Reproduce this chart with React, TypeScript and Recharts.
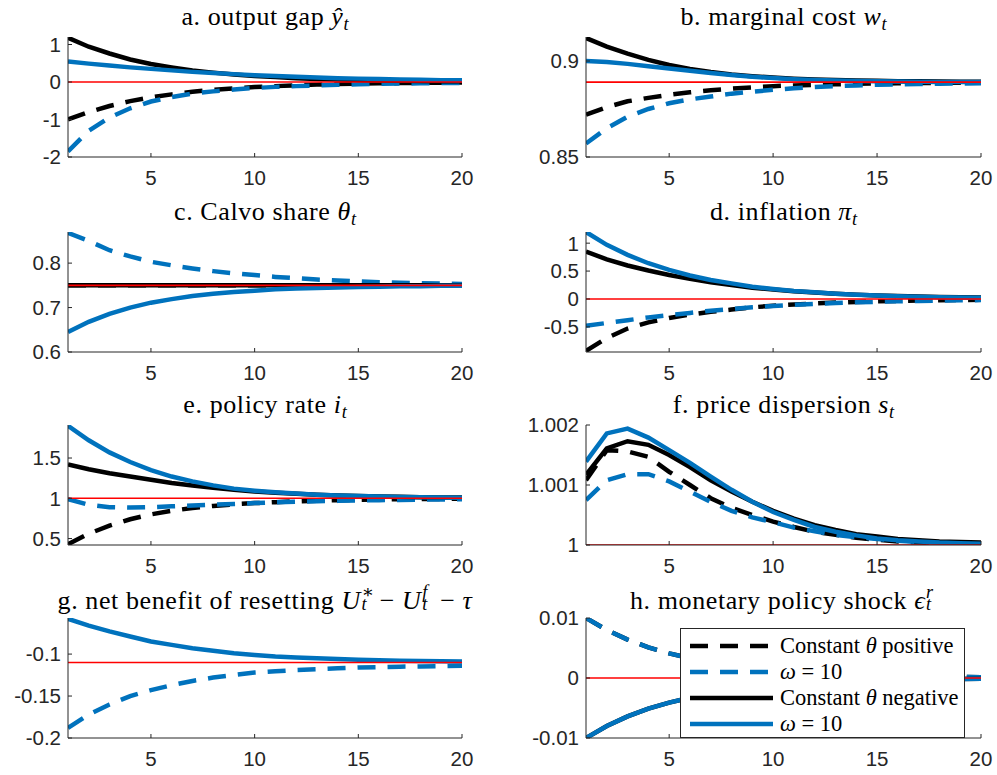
import React from 'react';
import { LineChart, Line, XAxis, YAxis, Legend } from 'recharts';

// ---- data ----------------------------------------------------------------
const periods = [1, 2, 3, 4, 5, 6, 7, 8, 9, 10, 11, 12, 13, 14, 15, 16, 17, 18, 19, 20];

// a. output gap
const gapConstPos = [-1.0, -0.8, -0.64, -0.51, -0.41, -0.33, -0.26, -0.21, -0.17, -0.135, -0.11, -0.09, -0.07, -0.055, -0.045, -0.035, -0.03, -0.024, -0.019, -0.015];
const gapOmegaPos = [-1.85, -1.3, -0.95, -0.7, -0.52, -0.4, -0.31, -0.25, -0.2, -0.16, -0.13, -0.11, -0.09, -0.075, -0.06, -0.05, -0.04, -0.035, -0.03, -0.025];
const gapConstNeg = [1.18, 0.94, 0.76, 0.6, 0.48, 0.39, 0.31, 0.25, 0.2, 0.16, 0.13, 0.1, 0.08, 0.065, 0.05, 0.04, 0.033, 0.026, 0.02, 0.017];
const gapOmegaNeg = [0.55, 0.49, 0.44, 0.39, 0.35, 0.31, 0.27, 0.24, 0.21, 0.18, 0.16, 0.14, 0.12, 0.1, 0.09, 0.08, 0.07, 0.06, 0.05, 0.045];

// b. marginal cost
const mcConstPos = [0.872, 0.876, 0.879, 0.8808, 0.8824, 0.8837, 0.8848, 0.8856, 0.8863, 0.8869, 0.8873, 0.8876, 0.8879, 0.8881, 0.8883, 0.8884, 0.8885, 0.8886, 0.8887, 0.8887];
const mcOmegaPos = [0.857, 0.865, 0.871, 0.875, 0.878, 0.88, 0.8815, 0.883, 0.884, 0.885, 0.8858, 0.8864, 0.8869, 0.8873, 0.8876, 0.8878, 0.888, 0.8882, 0.8883, 0.8884];
const mcConstNeg = [0.912, 0.9075, 0.9038, 0.9006, 0.8979, 0.8959, 0.8943, 0.893, 0.8921, 0.8914, 0.8908, 0.8904, 0.8901, 0.8899, 0.8897, 0.8895, 0.8894, 0.8893, 0.8892, 0.8892];
const mcOmegaNeg = [0.9, 0.8995, 0.8985, 0.8973, 0.8961, 0.8949, 0.8937, 0.8927, 0.8918, 0.8911, 0.8905, 0.8901, 0.8898, 0.8896, 0.8894, 0.8893, 0.8892, 0.8891, 0.8891, 0.889];

// c. Calvo share
const calvoConst = [0.75, 0.75, 0.75, 0.75, 0.75, 0.75, 0.75, 0.75, 0.75, 0.75, 0.75, 0.75, 0.75, 0.75, 0.75, 0.75, 0.75, 0.75, 0.75, 0.75];
const calvoOmegaPos = [0.868, 0.85, 0.829, 0.815, 0.803, 0.795, 0.788, 0.782, 0.777, 0.773, 0.769, 0.766, 0.763, 0.761, 0.759, 0.757, 0.756, 0.755, 0.754, 0.753];
const calvoOmegaNeg = [0.645, 0.668, 0.686, 0.7, 0.711, 0.719, 0.726, 0.731, 0.735, 0.738, 0.741, 0.743, 0.744, 0.745, 0.746, 0.747, 0.748, 0.748, 0.749, 0.749];

// d. inflation
const inflConstPos = [-0.93, -0.7, -0.53, -0.42, -0.34, -0.28, -0.23, -0.19, -0.15, -0.12, -0.1, -0.08, -0.065, -0.053, -0.043, -0.035, -0.028, -0.023, -0.019, -0.015];
const inflOmegaPos = [-0.48, -0.43, -0.38, -0.33, -0.29, -0.25, -0.21, -0.18, -0.15, -0.125, -0.105, -0.088, -0.073, -0.06, -0.05, -0.042, -0.035, -0.029, -0.024, -0.02];
const inflConstNeg = [0.85, 0.71, 0.6, 0.51, 0.43, 0.36, 0.3, 0.25, 0.2, 0.17, 0.14, 0.115, 0.095, 0.078, 0.064, 0.053, 0.044, 0.036, 0.03, 0.025];
const inflOmegaNeg = [1.2, 0.97, 0.79, 0.64, 0.52, 0.42, 0.34, 0.28, 0.22, 0.18, 0.145, 0.12, 0.095, 0.077, 0.062, 0.05, 0.04, 0.033, 0.027, 0.022];

// e. policy rate
const rateConstPos = [0.43, 0.56, 0.66, 0.74, 0.8, 0.845, 0.88, 0.905, 0.925, 0.94, 0.952, 0.962, 0.97, 0.976, 0.981, 0.985, 0.988, 0.99, 0.992, 0.994];
const rateOmegaPos = [0.99, 0.92, 0.89, 0.885, 0.89, 0.9, 0.91, 0.92, 0.93, 0.94, 0.95, 0.957, 0.963, 0.968, 0.973, 0.977, 0.98, 0.983, 0.986, 0.988];
const rateConstNeg = [1.42, 1.36, 1.31, 1.27, 1.23, 1.19, 1.16, 1.13, 1.105, 1.085, 1.068, 1.055, 1.044, 1.035, 1.028, 1.022, 1.018, 1.014, 1.011, 1.009];
const rateOmegaNeg = [1.9, 1.72, 1.57, 1.45, 1.35, 1.27, 1.21, 1.16, 1.12, 1.095, 1.075, 1.058, 1.045, 1.035, 1.028, 1.022, 1.017, 1.013, 1.01, 1.008];

// f. price dispersion
const dispConstPos = [1.00108, 1.00158, 1.00156, 1.00147, 1.00122, 1.001, 1.00078, 1.00062, 1.0005, 1.00039, 1.0003, 1.00022, 1.00017, 1.00012, 1.00009, 1.00006, 1.00004, 1.00003, 1.00002, 1.00002];
const dispOmegaPos = [1.00075, 1.00108, 1.00118, 1.00118, 1.00106, 1.00089, 1.00072, 1.00057, 1.00046, 1.00038, 1.00029, 1.00023, 1.00017, 1.00013, 1.0001, 1.00007, 1.00005, 1.00004, 1.00003, 1.00002];
const dispConstNeg = [1.00117, 1.00161, 1.00173, 1.00167, 1.0015, 1.0013, 1.00108, 1.00089, 1.00072, 1.00057, 1.00044, 1.00033, 1.00025, 1.00018, 1.00014, 1.0001, 1.00008, 1.00006, 1.00005, 1.00004];
const dispOmegaNeg = [1.00139, 1.00186, 1.00194, 1.00179, 1.00158, 1.00137, 1.00114, 1.00092, 1.00072, 1.00055, 1.00042, 1.0003, 1.00022, 1.00016, 1.00011, 1.00008, 1.00006, 1.00004, 1.00003, 1.00002];

// g. net benefit of resetting (only defined with endogenous theta)
const benefitOmegaPos = [-0.188, -0.172, -0.16, -0.15, -0.143, -0.137, -0.132, -0.128, -0.125, -0.122, -0.1205, -0.119, -0.118, -0.117, -0.116, -0.1155, -0.115, -0.1147, -0.1143, -0.114];
const benefitOmegaNeg = [-0.058, -0.066, -0.073, -0.079, -0.085, -0.089, -0.093, -0.096, -0.099, -0.101, -0.103, -0.104, -0.105, -0.106, -0.1067, -0.1073, -0.1078, -0.1082, -0.1085, -0.1087];

// h. monetary policy shock (same path in both models)
const shockPos = [0.01, 0.008, 0.0064, 0.0051, 0.0041, 0.0033, 0.0026, 0.0021, 0.0017, 0.0013, 0.0011, 0.0009, 0.0007, 0.00055, 0.00044, 0.00035, 0.00028, 0.00023, 0.00018, 0.00014];
const shockNeg = [-0.01, -0.008, -0.0064, -0.0051, -0.0041, -0.0033, -0.0026, -0.0021, -0.0017, -0.0013, -0.0011, -0.0009, -0.0007, -0.00055, -0.00044, -0.00035, -0.00028, -0.00023, -0.00018, -0.00014];

// steady-state reference levels
const steadyStates = [0, 0.889, 0.75, 0, 1, 1, -0.11, 0];

// axis limits and ticks
const yDomains: [number, number][] = [
  [-2, 1.2], [0.85, 0.9125], [0.6, 0.87], [-0.95, 1.2],
  [0.42, 1.91], [1, 1.002], [-0.2, -0.057], [-0.01, 0.01],
];
const yTicks = [
  [-2, -1, 0, 1], [0.85, 0.9], [0.6, 0.7, 0.8], [-0.5, 0, 0.5, 1],
  [0.5, 1, 1.5], [1, 1.001, 1.002], [-0.2, -0.15, -0.1], [-0.01, 0, 0.01],
];
const xTicks = [5, 10, 15, 20];

const legendNames = ['Constant θ positive', 'ω = 10', 'Constant θ negative', 'ω = 10'];

// ---- styling --------------------------------------------------------------
const AXIS = '#262626';
const BLUE = '#0072BD';
const RED = '#FF0000';
const DASH = '18 12';
const LW = 4.5;
const SANS = '"Liberation Sans", Arial, Helvetica, sans-serif';
const SERIF = '"Liberation Serif", "DejaVu Serif", serif';
const TICK_FONT = 20.5;

const COL_X = [68, 586];
const COL_W = [394, 395];
const ROW_TOP = [37, 232, 425, 618];
const PLOT_H = 120;
const YW = 72;
const MT = 16;
const MR = 16;
const XH = 36;
const Y_GAP = 7;
const X_GAP = 13;
const TICK_LEN = 4;

const seriesStyle = [
  { key: 'cp', color: '#000000', dash: DASH },
  { key: 'wp', color: BLUE, dash: DASH },
  { key: 'cn', color: '#000000', dash: undefined },
  { key: 'wn', color: BLUE, dash: undefined },
];

// ---- math-ish title helpers ----------------------------------------------
const Sub = ({ children }: { children: React.ReactNode }) => (
  <span style={{ fontSize: '0.7em', position: 'relative', top: '0.3em', fontStyle: 'italic', letterSpacing: 0 }}>{children}</span>
);

// superscript and subscript stacked on the same column
const SupSub = ({ sup, sub, supItalic = true }: { sup: string; sub: string; supItalic?: boolean }) => (
  <span style={{ position: 'relative', display: 'inline-block', width: '0.45em', height: '1em', letterSpacing: 0 }}>
    <span
      style={{
        position: 'absolute',
        left: '0.04em',
        top: '-0.02em',
        fontSize: '0.7em',
        lineHeight: 1,
        fontStyle: supItalic ? 'italic' : 'normal',
      }}
    >
      {sup}
    </span>
    <span style={{ position: 'absolute', left: '0.04em', top: '0.68em', fontSize: '0.7em', lineHeight: 1, fontStyle: 'italic' }}>
      {sub}
    </span>
  </span>
);

const titles: React.ReactNode[] = [
  <>a. output gap <i>ŷ</i><Sub>t</Sub></>,
  <>b. marginal cost <i>w</i><Sub>t</Sub></>,
  <>c. Calvo share <i>θ</i><Sub>t</Sub></>,
  <>d. inflation <i>π</i><Sub>t</Sub></>,
  <>e. policy rate <i>i</i><Sub>t</Sub></>,
  <>f. price dispersion <i>s</i><Sub>t</Sub></>,
  <>g. net benefit of resetting <i>U</i><SupSub sup="∗" sub="t" supItalic={false} /> − <i>U</i><SupSub sup="f" sub="t" /> − <i>τ</i></>,
  <>h. monetary policy shock <i>ϵ</i><SupSub sup="r" sub="t" /></>,
];

const panelSeries = [
  [gapConstPos, gapOmegaPos, gapConstNeg, gapOmegaNeg],
  [mcConstPos, mcOmegaPos, mcConstNeg, mcOmegaNeg],
  [calvoConst, calvoOmegaPos, calvoConst, calvoOmegaNeg],
  [inflConstPos, inflOmegaPos, inflConstNeg, inflOmegaNeg],
  [rateConstPos, rateOmegaPos, rateConstNeg, rateOmegaNeg],
  [dispConstPos, dispOmegaPos, dispConstNeg, dispOmegaNeg],
  [null, benefitOmegaPos, null, benefitOmegaNeg],
  [shockPos, shockPos, shockNeg, shockNeg],
];

const buildRows = (idx: number) =>
  periods.map((t, i) => {
    const s = panelSeries[idx];
    return {
      t,
      cp: s[0] ? s[0][i] : null,
      wp: s[1] ? s[1][i] : null,
      cn: s[2] ? s[2][i] : null,
      wn: s[3] ? s[3][i] : null,
      ss: steadyStates[idx],
    };
  });

// ---- axis ticks drawn inward --------------------------------------------
const YTick = (props: any) => {
  const { x, y, payload } = props;
  const ax = x + Y_GAP;
  return (
    <g>
      <line x1={ax} x2={ax + TICK_LEN} y1={y} y2={y} stroke={AXIS} strokeWidth={1} />
      <text x={x} y={y} dy="0.36em" textAnchor="end" fill={AXIS} fontSize={TICK_FONT} fontFamily={SANS}>
        {String(payload.value)}
      </text>
    </g>
  );
};

const XTick = (props: any) => {
  const { x, y, payload } = props;
  const ay = y - X_GAP;
  return (
    <g>
      <line x1={x} x2={x} y1={ay} y2={ay - TICK_LEN} stroke={AXIS} strokeWidth={1} />
      <text x={x} y={y} dy="0.73em" textAnchor="middle" fill={AXIS} fontSize={TICK_FONT} fontFamily={SANS}>
        {String(payload.value)}
      </text>
    </g>
  );
};

// ---- legend box -----------------------------------------------------------
const LEGEND_BOX = { left: 680, top: 628, width: 285, height: 110 };
const legendStyles = [
  { color: '#000000', dash: DASH },
  { color: BLUE, dash: DASH },
  { color: '#000000', dash: undefined },
  { color: BLUE, dash: undefined },
];

const renderName = (name: string) => {
  const parts = name.split(/(θ|ω)/);
  return parts.map((p, i) => (p === 'θ' || p === 'ω' ? <i key={i}>{p}</i> : <span key={i}>{p}</span>));
};

const LegendBox = () => (
  <div
    style={{
      position: 'relative',
      width: LEGEND_BOX.width,
      height: LEGEND_BOX.height,
      boxSizing: 'border-box',
      border: `1px solid ${AXIS}`,
      background: '#ffffff',
    }}
  >
    {legendNames.map((name, i) => {
      const cy = 17 + i * 26;
      return (
        <div key={i} style={{ position: 'absolute', left: 0, top: cy - 13, height: 26, width: '100%' }}>
          <svg width={95} height={26} style={{ position: 'absolute', left: 0, top: 0 }}>
            <line x1={9} x2={92} y1={13} y2={13} stroke={legendStyles[i].color} strokeWidth={LW} strokeDasharray={legendStyles[i].dash} />
          </svg>
          <div
            style={{
              position: 'absolute',
              left: 99,
              top: 0,
              lineHeight: '26px',
              fontFamily: SERIF,
              fontSize: 22.5,
              color: '#000',
              whiteSpace: 'nowrap',
            }}
          >
            {renderName(name)}
          </div>
        </div>
      );
    })}
  </div>
);

// ---- one panel ------------------------------------------------------------
const Panel = ({ idx }: { idx: number }) => {
  const col = idx % 2;
  const row = Math.floor(idx / 2);
  const plotX = COL_X[col];
  const plotW = COL_W[col];
  const plotTop = ROW_TOP[row];
  const left = plotX - YW;
  const top = plotTop - MT;
  const width = plotW + YW + MR;
  const height = MT + PLOT_H + XH;
  const rows = buildRows(idx);

  return (
    <>
      <div
        style={{
          position: 'absolute',
          left: plotX - 80,
          width: plotW + 160,
          top: plotTop - 35,
          height: 30,
          lineHeight: '30px',
          textAlign: 'center',
          fontFamily: SERIF,
          fontSize: 26,
          letterSpacing: 0.6,
          color: '#000',
          whiteSpace: 'nowrap',
        }}
      >
        {titles[idx]}
      </div>
      <div style={{ position: 'absolute', left, top, width, height }}>
        <LineChart width={width} height={height} data={rows} margin={{ top: MT, right: MR, bottom: 0, left: 0 }}>
          <XAxis
            dataKey="t"
            type="number"
            domain={[1, 20]}
            ticks={xTicks}
            allowDataOverflow
            height={XH}
            tickSize={0}
            tickMargin={X_GAP}
            axisLine={{ stroke: AXIS, strokeWidth: 1 }}
            tickLine={false}
            tick={<XTick />}
            interval={0}
          />
          <YAxis
            type="number"
            domain={yDomains[idx]}
            ticks={yTicks[idx]}
            allowDataOverflow
            width={YW}
            tickSize={0}
            tickMargin={Y_GAP}
            axisLine={{ stroke: AXIS, strokeWidth: 1 }}
            tickLine={false}
            tick={<YTick />}
            interval={0}
          />
          {seriesStyle.map((s) => (
            <Line
              key={s.key}
              type="linear"
              dataKey={s.key}
              stroke={s.color}
              strokeWidth={LW}
              strokeDasharray={s.dash}
              dot={false}
              activeDot={false}
              isAnimationActive={false}
              connectNulls={false}
            />
          ))}
          <Line type="linear" dataKey="ss" stroke={RED} strokeWidth={1.6} dot={false} activeDot={false} isAnimationActive={false} />
          {idx === 7 && (
            <Legend
              layout="horizontal"
              verticalAlign="middle"
              align="center"
              wrapperStyle={{ left: LEGEND_BOX.left - left, top: LEGEND_BOX.top - top, width: LEGEND_BOX.width, height: LEGEND_BOX.height }}
              content={<LegendBox />}
            />
          )}
        </LineChart>
      </div>
    </>
  );
};

export default function App() {
  return (
    <div style={{ position: 'absolute', left: 0, top: 0, width: 997, height: 775, background: '#ffffff', overflow: 'hidden' }}>
      {periods.slice(0, 8).map((_, idx) => (
        <Panel key={idx} idx={idx} />
      ))}
    </div>
  );
}
